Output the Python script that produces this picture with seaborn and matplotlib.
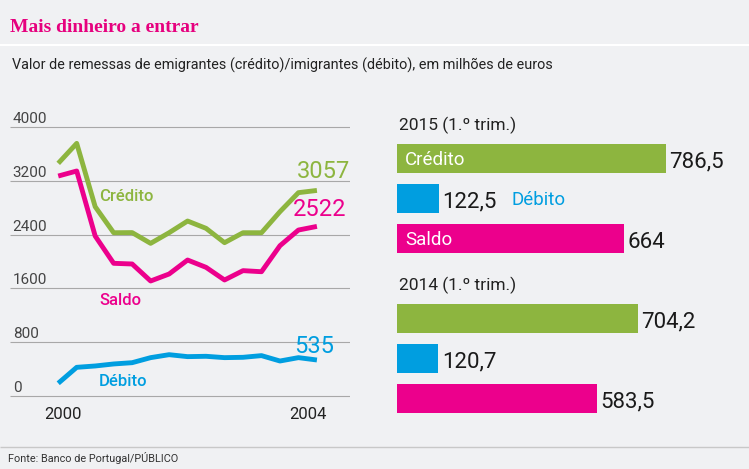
import pandas as pd
import seaborn as sns
import matplotlib.pyplot as plt
import matplotlib.transforms as mtransforms

# dados (milhões de euros)
anos = list(range(2000, 2015))
credito = [3460, 3757, 2815, 2428, 2430, 2270, 2428, 2602, 2493, 2280, 2428, 2428, 2741, 3024, 3057]
debito = [189, 426, 446, 476, 495, 570, 614, 585, 590, 570, 575, 600, 520, 570, 535]
saldo = [3271, 3346, 2379, 1973, 1963, 1710, 1814, 2022, 1913, 1725, 1864, 1848, 2235, 2468, 2522]

series = ["Crédito", "Débito", "Saldo"]
trimestres = ["2015 (1.º trim.)", "2014 (1.º trim.)"]
barras_2015 = [786.5, 122.5, 664]
barras_2014 = [704.2, 120.7, 583.5]

y_ticks = [0, 800, 1600, 2400, 3200, 4000]
x_ticks = [2000.25, 2013.5]
x_ticklabels = ["2000", "2004"]

cores = {"Crédito": "#8db53f", "Débito": "#009ee0", "Saldo": "#ec008c"}
fundo = "#f0f1f3"

sns.set_theme(style="white")
plt.rcParams["font.family"] = ["Roboto", "DejaVu Sans"]
plt.rcParams["lines.solid_capstyle"] = "butt"

fig = plt.figure(figsize=(7.49, 4.69), dpi=100)
fig.patch.set_facecolor(fundo)

# título e subtítulo
fig.text(10 / 749, 1 - 27 / 469, "Mais dinheiro a entrar", family="Liberation Serif",
         fontweight="bold", fontsize=14, color="#e6007e", va="center")
fig.add_artist(plt.Line2D([0, 1], [1 - 45 / 469] * 2, color="white", lw=1.5))
fig.text(12 / 749, 1 - 65 / 469,
         "Valor de remessas de emigrantes (crédito)/imigrantes (débito), em milhões de euros",
         fontsize=10.4, color="#222222", va="center")

# rodapé
fig.add_artist(plt.Line2D([0, 1], [1 - 447 / 469] * 2, color="#c8c8c8", lw=1))
fig.text(8 / 749, 1 - 458 / 469, "Fonte: Banco de Portugal/PÚBLICO",
         fontsize=7.8, color="#333333", va="center")

# --- gráfico de linhas ---
ax1 = fig.add_axes([10 / 749, 69 / 469, 340 / 749, 277 / 469])
ax1.set_facecolor("none")
df_linhas = pd.DataFrame({
    "ano": anos * 3,
    "valor": credito + debito + saldo,
    "serie": ["Crédito"] * len(anos) + ["Débito"] * len(anos) + ["Saldo"] * len(anos),
})
sns.lineplot(data=df_linhas, x="ano", y="valor", hue="serie", palette=cores,
             linewidth=3.5, legend=False, ax=ax1)
ax1.set_xlim(1997.39, 2015.79)
ax1.set_ylim(-60, 4060)
ax1.set_yticks(y_ticks)
ax1.set_yticklabels([])
ax1.set_xticks(x_ticks)
ax1.set_xticklabels(x_ticklabels, fontsize=12, color="#222222")
ax1.tick_params(length=0, pad=5)
ax1.grid(axis="y", color="#a8a8a8", lw=0.8)
ax1.set_axisbelow(True)
ax1.set_xlabel("")
ax1.set_ylabel("")
for s in ax1.spines.values():
    s.set_visible(False)

trans = mtransforms.blended_transform_factory(ax1.transAxes, ax1.transData)
for v in y_ticks:
    ax1.text(0.008, v + 120, str(v), transform=trans, fontsize=11,
             color="#444444", va="center", ha="left")

ax1.text(2002.2, 2963, "Crédito", color=cores["Crédito"], fontsize=12,
         fontweight="medium", va="center")
ax1.text(2002.2, 1413, "Saldo", color=cores["Saldo"], fontsize=12,
         fontweight="medium", va="center")
ax1.text(2002.2, 213, "Débito", color=cores["Débito"], fontsize=12,
         fontweight="medium", va="center")
ax1.text(2015.8, 3346, str(credito[-1]), color=cores["Crédito"], fontsize=17,
         ha="right", va="center")
ax1.text(2015.6, 2766, str(saldo[-1]), color=cores["Saldo"], fontsize=17,
         ha="right", va="center")
ax1.text(2014.95, 743, str(debito[-1]), color=cores["Débito"], fontsize=17,
         ha="right", va="center")

# --- barras ---
ax2 = fig.add_axes([397 / 749, 39 / 469, 352 / 749, 330 / 469])
ax2.set_facecolor("none")
linhas = []
for g, valores in enumerate([barras_2015, barras_2014]):
    for i, (s, v) in enumerate(zip(series, valores)):
        linhas.append({"serie": s, "valor": v, "pos": g * 4 + i})
df_barras = pd.DataFrame(linhas)
sns.barplot(data=df_barras, x="valor", y="pos", hue="serie", palette=cores,
            orient="h", native_scale=True, width=0.72, dodge=False,
            errorbar=None, saturation=1, linewidth=0, legend=False, ax=ax2)
ax2.set_xlim(0, 1029)
ax2.set_ylim(6.79, -1.46)
ax2.axis("off")

for _, r in df_barras.iterrows():
    txt = f"{r['valor']:g}".replace(".", ",")
    ax2.annotate(txt, xy=(r["valor"], r["pos"] + 0.1), xytext=(2.5, 0),
                 textcoords="offset points", fontsize=16, color="#1a1a1a",
                 va="center", ha="left")

for g, t in enumerate(trimestres):
    ax2.text(5, g * 4 - 0.83, t, fontsize=12.5, color="#222222", va="center")

ax2.text(24, 0.03, "Crédito", color="white", fontsize=13.5, va="center")
ax2.text(24, 2.03, "Saldo", color="white", fontsize=13.5, va="center")
ax2.text(335, 1.03, "Débito", color=cores["Débito"], fontsize=13.5, va="center")

plt.savefig("out.png", dpi=100, facecolor=fundo)
